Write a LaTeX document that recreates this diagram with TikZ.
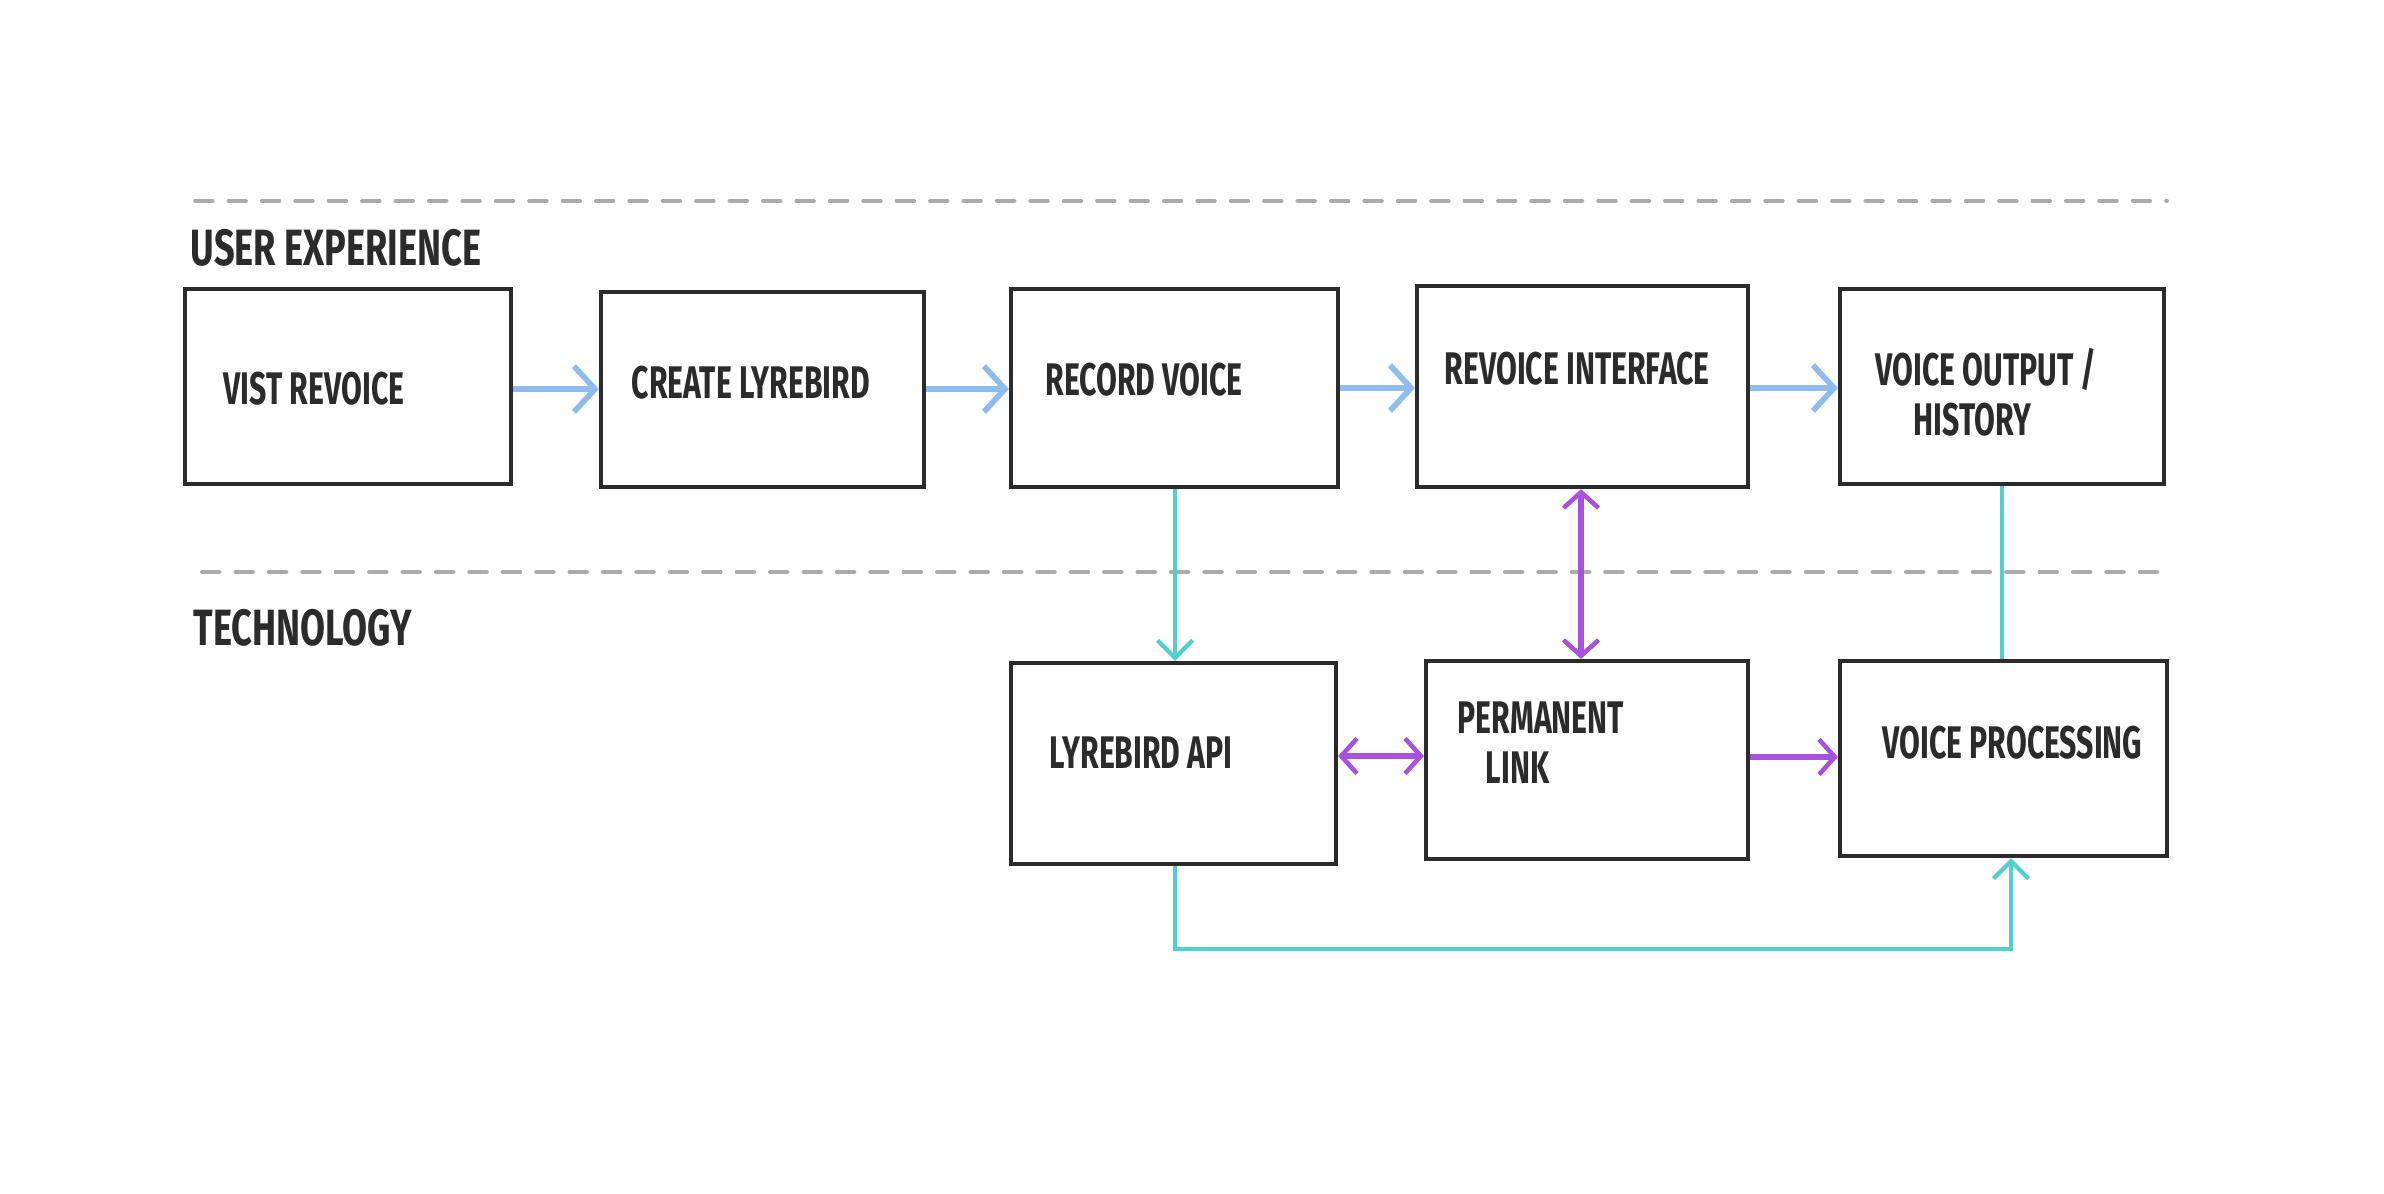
\documentclass[tikz,border=0pt]{standalone}
\usepackage{fontspec}
\setmainfont{Fira Sans}
\newfontfamily\hand[FakeStretch=0.66]{Fira Sans}
\newfontfamily\handhead[FakeStretch=0.71]{Fira Sans}
\usetikzlibrary{arrows.meta,fit}
\definecolor{ink}{HTML}{2B2B2B}
\definecolor{skyarrow}{HTML}{8FBCEE}
\definecolor{tealarrow}{HTML}{52CFD0}
\definecolor{purplearrow}{HTML}{A851DF}
\definecolor{sepgray}{HTML}{ABABAB}
\tikzset{
  box/.style={draw=ink, line width=1.2pt, inner sep=0pt, rectangle},
  txt/.style={anchor=west, text=ink, font=\hand\bfseries\fontsize{13}{15}\selectfont, inner sep=0pt, align=left},
  heading/.style={anchor=west, text=ink, font=\handhead\bfseries\fontsize{14.5}{17}\selectfont, inner sep=0pt},
  sep/.style={draw=sepgray, line width=1.1pt, line cap=round, dash pattern=on 5pt off 4.5pt},
  skyflow/.style={draw=skyarrow, line width=1.8pt, -{Straight Barb[length=6pt,width=13pt,line width=1.6pt]}},
  tealflow/.style={draw=tealarrow, line width=1pt, -{Straight Barb[length=5pt,width=10pt,line width=1.2pt]}},
  tealline/.style={draw=tealarrow, line width=1pt},
  purpleflow/.style={draw=purplearrow, line width=1.5pt, -{Straight Barb[length=4.5pt,width=10pt,line width=1.3pt]}},
  purpletwo/.style={draw=purplearrow, line width=1.5pt, {Straight Barb[length=4.5pt,width=10pt,line width=1.3pt]}-{Straight Barb[length=4.5pt,width=10pt,line width=1.3pt]}},
}
\begin{document}
\begin{tikzpicture}[x=0.01cm, y=-0.01cm]
\path[fill=white] (0,0) rectangle (2384,1194);
\useasboundingbox (0,0) rectangle (2384,1194);

% separators
\coordinate (s1a) at (195,201);
\coordinate (s1b) at (2167,201);
\coordinate (s2a) at (202,572);
\coordinate (s2b) at (2171,572);
\draw[sep] (s1a) -- (s1b);
\draw[sep] (s2a) -- (s2b);

% headings
\node[heading] (hux) at (190,248) {USER EXPERIENCE};
\node[heading] (htech) at (193,628) {TECHNOLOGY};

% boxes
\coordinate (b1a) at (185,289); \coordinate (b1b) at (511,484);
\coordinate (b2a) at (601,292); \coordinate (b2b) at (924,487);
\coordinate (b3a) at (1011,289); \coordinate (b3b) at (1338,487);
\coordinate (b4a) at (1417,286); \coordinate (b4b) at (1748,487);
\coordinate (b5a) at (1840,289); \coordinate (b5b) at (2164,484);
\coordinate (b6a) at (1011,663); \coordinate (b6b) at (1336,864);
\coordinate (b7a) at (1426,661); \coordinate (b7b) at (1748,859);
\coordinate (b8a) at (1840,661); \coordinate (b8b) at (2167,856);
\node[box, fit=(b1a)(b1b)] (b1) {};
\node[box, fit=(b2a)(b2b)] (b2) {};
\node[box, fit=(b3a)(b3b)] (b3) {};
\node[box, fit=(b4a)(b4b)] (b4) {};
\node[box, fit=(b5a)(b5b)] (b5) {};
\node[box, fit=(b6a)(b6b)] (b6) {};
\node[box, fit=(b7a)(b7b)] (b7) {};
\node[box, fit=(b8a)(b8b)] (b8) {};

% texts
\node[txt] (t1) at (223,389) {VIST REVOICE};
\node[txt] (t2) at (631,383) {CREATE LYREBIRD};
\node[txt] (t3) at (1045,380) {RECORD VOICE};
\node[txt] (t4) at (1444,369) {REVOICE INTERFACE};
\node[txt] (t5a) at (1875,369) {VOICE OUTPUT /};
\node[txt] (t5b) at (1913,420) {HISTORY};
\node[txt] (t6) at (1049,753) {LYREBIRD API};
\node[txt] (t7a) at (1457,718) {PERMANENT};
\node[txt] (t7b) at (1485,768) {LINK};
\node[txt] (t8) at (1882,743) {VOICE PROCESSING};

% user experience flow
\draw[skyflow] (b1.east |- 0,389) -- (b2.west |- 0,389);
\draw[skyflow] (b2.east |- 0,389) -- (b3.west |- 0,389);
\draw[skyflow] (b3.east |- 0,388) -- (b4.west |- 0,388);
\draw[skyflow] (b4.east |- 0,388) -- (b5.west |- 0,388);

% technology links
\draw[tealflow] (b3.south -| 1175,0) -- (b6.north -| 1175,0);
\draw[purpletwo] (b4.south -| 1581,0) -- (b7.north -| 1581,0);
\draw[tealline] (b8.north -| 2002,0) -- (b5.south -| 2002,0);
\draw[purpletwo] (b6.east |- 0,756) -- (b7.west |- 0,756);
\draw[purpleflow] (b7.east |- 0,757) -- (b8.west |- 0,757);
\draw[tealflow] (b6.south -| 1175,0) -- (1175,949) -- (2011,949) -- (b8.south -| 2011,0);
\end{tikzpicture}
\end{document}
